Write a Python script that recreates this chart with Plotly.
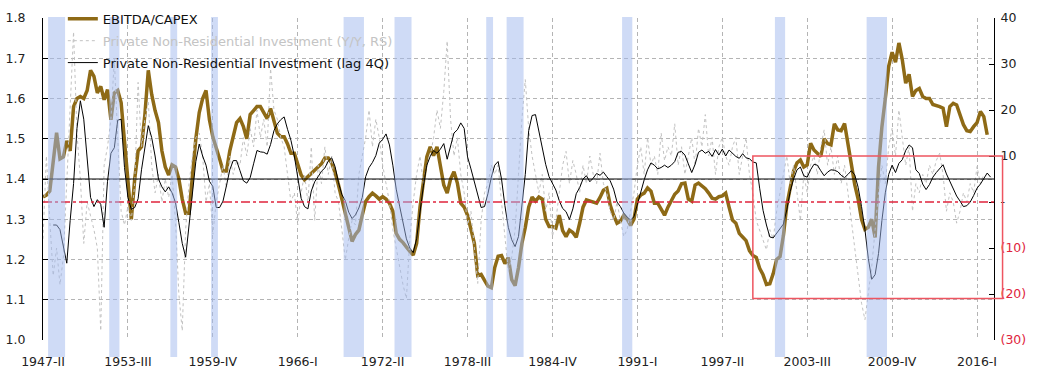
import plotly.graph_objects as go

# ---------------- data ----------------
ROMAN = ["I", "II", "III", "IV"]
quarters = []
_y, _q = 1947, 1
for _k in range(281):
    quarters.append(f"{_y}-{ROMAN[_q]}")
    _q += 1
    if _q == 4:
        _q, _y = 0, _y + 1

# EBITDA/CAPEX (left axis), from 1947-II
ebitda_capex = [
    1.355, 1.36, 1.37, 1.45, 1.515, 1.45, 1.455, 1.495, 1.47, 1.58,
    1.60, 1.605, 1.60, 1.62, 1.67, 1.655, 1.614, 1.63, 1.597, 1.622,
    1.547, 1.614, 1.62, 1.59, 1.50, 1.40, 1.30, 1.40, 1.47, 1.48,
    1.56, 1.67, 1.61, 1.57, 1.54, 1.47, 1.43, 1.41, 1.435, 1.43,
    1.40, 1.35, 1.315, 1.315, 1.41, 1.50, 1.565, 1.60, 1.62, 1.547,
    1.505, 1.48, 1.45, 1.42, 1.42, 1.47, 1.51, 1.54, 1.55, 1.53,
    1.50, 1.56, 1.57, 1.58, 1.58, 1.565, 1.55, 1.575, 1.547, 1.514,
    1.505, 1.505, 1.487, 1.464, 1.464, 1.44, 1.41, 1.398, 1.406, 1.412,
    1.42, 1.428, 1.438, 1.452, 1.452, 1.44, 1.416, 1.385, 1.35, 1.318,
    1.282, 1.245, 1.262, 1.273, 1.31, 1.344, 1.356, 1.365, 1.358, 1.35,
    1.356, 1.35, 1.34, 1.32, 1.265, 1.25, 1.242, 1.23, 1.22, 1.211,
    1.24, 1.33, 1.40, 1.455, 1.48, 1.458, 1.48, 1.43, 1.385, 1.365,
    1.40, 1.418, 1.39, 1.34, 1.33, 1.31, 1.275, 1.24, 1.16, 1.163,
    1.148, 1.134, 1.13, 1.18, 1.208, 1.21, 1.19, 1.205, 1.15, 1.135,
    1.18, 1.24, 1.28, 1.33, 1.355, 1.345, 1.355, 1.35, 1.30, 1.282,
    1.282, 1.278, 1.31, 1.272, 1.257, 1.273, 1.267, 1.255, 1.29, 1.33,
    1.348, 1.345, 1.344, 1.34, 1.354, 1.372, 1.377, 1.335, 1.31, 1.29,
    1.295, 1.31, 1.30, 1.285, 1.30, 1.35, 1.36, 1.365, 1.378, 1.37,
    1.34, 1.34, 1.325, 1.31, 1.33, 1.348, 1.362, 1.37, 1.388, 1.39,
    1.35, 1.345, 1.385, 1.39, 1.382, 1.376, 1.365, 1.352, 1.35, 1.356,
    1.358, 1.365, 1.33, 1.298, 1.29, 1.265, 1.256, 1.247, 1.222, 1.21,
    1.205, 1.178, 1.162, 1.138, 1.14, 1.165, 1.20, 1.207, 1.26, 1.335,
    1.378, 1.42, 1.44, 1.447, 1.43, 1.435, 1.489, 1.472, 1.464, 1.456,
    1.50, 1.488, 1.485, 1.537, 1.522, 1.52, 1.538, 1.49, 1.43, 1.386,
    1.35, 1.30, 1.275, 1.28, 1.30, 1.255, 1.43, 1.53, 1.60, 1.68,
    1.715, 1.69, 1.738, 1.696, 1.638, 1.66, 1.605, 1.62, 1.625, 1.605,
    1.60, 1.60, 1.585, 1.583, 1.58, 1.576, 1.53, 1.58, 1.588, 1.584,
    1.56, 1.535, 1.52, 1.518, 1.53, 1.54, 1.568, 1.555, 1.51,
]

# Private Non-Residential Investment Y/Y (right axis), from 1947-II
pnri_yoy = [
    -8, 10, -4, -16, -10, -18, -12, 4, 22, 37,
    15, 5, -9, 0, -3, -6, -10, -28, 8, 12,
    18, 31, 14, -2, -5, -1, -4, 4, 26, 12,
    18, 22, 8, 2, 6, 0, 5, 1, 6, -4,
    -20, -28, -6, 4, 10, 14, 15, 10, 0, 4,
    -7, 0, 4, 8, 3, 10, 6, 9, 8, 14,
    10, 16, 12, 20, 14, 18, 12, 29, 20, 18,
    14, 12, 6, 0, 2, -5, 2, 6, 0, 12,
    -4, 8, 4, 12, 6, 10, 2, 0, -6, -12.6,
    -8, -4, -5, 6, 10, 14, 20, 12, 18, 14,
    8, 4, 0, -6, -10, -14, -18, -21, -8, 0,
    6, 10, 4, 8, 10, 14, 20, 16, 24, 35,
    18, 10, 14, 6, 2, -5, -2, -10, -17.7, -4,
    2, 4, 8, 6, 8, 0, -8, -15, -12, -6,
    6, 18, 26.6, 16, 10, 6, 2, 6, -2, 2,
    -7.5, -4, 2, 8, 11, 4, 9, 6, 2, 8,
    4, 10, 6, 4, 10.6, 4, 2, -2, -4, 0,
    -4, -7.5, -6, -2, 2, 8, 12, 6, 14, 8,
    10, 6, 15, 9, 12, 10, 17, 8, 12, 6,
    10, 14, 8, 16, 12, 19, 10, 14, 6, 12,
    14, 10, 8, 12, 14, 6, 10, 14, 6, 2,
    -4, -6, -8, -10.4, -6, -8, -2, 2, 6, 10,
    4, 8, 2, -4, 6, 2, 8, 10, 6, 12,
    15.7, 8, 12, 6, 10, 4, 8, 2, -4, -10,
    -16, -22, -25.6, -20, -14, -6, 2, 8, 4, 12,
    16, 10, 20, 14, 8, 12, -2, 4, 2, 6,
    4, 8, 6, 9, 10.6, 6, -2, 2, 0, -4.6,
    -2, 2, 0, 4, 2, 7.7, 4, 6,
]

# Private Non-Residential Investment, lag 4Q (right axis), from 1948-I
LAG_START = "1948-I"
pnri_lag4q = [
    -5.0, -5.0, -6.0, -10.0, -13.3, -4.0, 4.0, 16.0,
    22.0, 18.0, 9.0, 1.0, -1.0, 0.5, -0.5, -5.5, 4.5, 10.6,
    11.8, 17.8, 18.0, 7.5, 1.0, -1.6, -1.2, 0.7, 7.0, 12.0,
    16.6, 14.0, 10.0, 5.0, 3.3, 2.2, 3.3, 2.0, -0.1, -4.5,
    -9.0, -12.0, -4.6, 1.5, 8.8, 12.6, 10.0, 8.0, 4.5, 3.4,
    -1.2, -1.2, 0.2, 3.5, 7.0, 9.0, 9.0, 6.8, 4.6, 4.1,
    5.3, 8.3, 11.2, 10.9, 10.8, 10.4, 12.5, 15.5, 17.0, 17.9,
    18.5, 15.8, 13.4, 10.0, 5.0, 0.8, -1.0, -1.5, 2.4, 4.4,
    5.5, 6.7, 7.4, 8.9, 9.6, 7.7, 4.2, 1.6, 0.3, -2.2,
    -3.6, -2.8, -1.3, 1.0, 5.5, 7.5, 8.6, 10.1, 12.8, 13.6,
    14.8, 12.4, 8.0, 2.8, -0.9, -4.6, -8.0, -10.0, -11.0, -8.0,
    -2.0, 3.5, 8.0, 9.9, 11.2, 10.6, 11.5, 12.7, 9.3, 12.0,
    15.0, 15.7, 17.2, 16.0, 9.8, 7.2, 4.5, 1.5, -1.2, -1.0,
    1.8, 5.4, 8.0, 8.8, 5.0, -0.8, -5.5, -8.2, -9.7, -7.5,
    -1.0, 6.0, 15.5, 18.8, 19.0, 15.3, 11.4, 8.2, 5.5, 4.0,
    2.6, 0.3, -1.4, -2.1, -3.8, -1.5, 1.8, 3.1, 5.0, 5.7,
    4.4, 5.2, 6.2, 5.8, 6.5, 5.5, 4.6, 2.8, 0.0, -1.0,
    -2.4, -3.3, -3.9, -3.2, -0.4, 2.0, 4.8, 7.0, 8.5, 8.0,
    7.2, 7.5, 8.0, 7.5, 8.0, 8.8, 10.8, 11.0, 10.2, 8.3,
    6.4, 8.2, 10.8, 11.3, 10.6, 11.0, 9.9, 11.4, 10.2, 11.5,
    10.0, 11.3, 10.6, 9.9, 9.5, 10.5, 9.6, 9.4, 8.7, 8.5,
    3.0, -1.8, -5.0, -7.6, -7.8, -6.8, -5.9, -4.8, -1.7, 2.3,
    5.0, 7.0, 7.6, 5.7, 5.4, 7.0, 8.2, 8.0, 6.8, 5.7,
    6.5, 7.0, 6.9, 6.6, 5.8, 5.3, 6.0, 6.8, 5.9, 3.2,
    -1.0, -6.0, -12.3, -16.8, -15.8, -11.2, -4.0, 2.0, 6.0, 8.0,
    6.4, 8.4, 9.2, 11.2, 12.4, 11.8, 7.0, 6.2, 3.9, 2.7,
    3.8, 5.4, 6.4, 7.2, 8.1, 6.1, 4.5, 3.0, 1.3, 0.2,
    -1.0, -0.8, 0.0, 1.4, 3.0, 3.9, 5.0, 6.3, 5.4,
]

# shaded (recession) periods, first and last quarter
recessions = [
    ("1947-IV", "1948-IV"), ("1952-II", "1952-IV"), ("1956-IV", "1957-I"),
    ("1959-IV", "1960-I"), ("1969-III", "1970-IV"), ("1973-II", "1974-II"),
    ("1980-I", "1980-II"), ("1981-III", "1982-III"), ("1990-I", "1990-III"),
    ("2001-II", "2001-IV"), ("2008-I", "2009-II"),
]

x_tick_labels = quarters[0:281:25]
left_ticks = [1.0, 1.1, 1.2, 1.3, 1.4, 1.5, 1.6, 1.7, 1.8]
right_ticks = [-30, -20, -10, 0, 10, 20, 30, 40]
right_tick_text = ["(30)", "(20)", "(10)", "-", "10", "20", "30", "40"]
EBITDA_REF = 1.40          # solid black reference line (left axis)
YOY_REF = 0                # red dash-dot reference line (right axis)
BOX_START = "1999-III"     # highlighted box start
BOX_RANGE = (-21, 10)      # highlighted box (right axis units)

# ---------------- figure ----------------
BROWN = "#8E6A16"
RED = "#E0243C"
GRID = "#B4B4B4"
GRID_DASH = "4px,3px"
N_CAT = 280

fig = go.Figure()
fig.add_trace(go.Scatter(
    x=quarters[:len(ebitda_capex)], y=ebitda_capex, name="EBITDA/CAPEX",
    legendgroup="a", mode="lines", line=dict(color=BROWN, width=3.5), yaxis="y"))
fig.add_trace(go.Scatter(
    x=quarters[:len(pnri_yoy)], y=pnri_yoy,
    name="<span style='color:#C4C4C4'>Private Non-Residential Investment (Y/Y, RS)</span>",
    legendgroup="b", mode="lines", line=dict(color="#C2C2C2", width=1, dash="dot"),
    yaxis="y2"))
_ls = quarters.index(LAG_START)
fig.add_trace(go.Scatter(
    x=quarters[_ls:_ls + len(pnri_lag4q)], y=pnri_lag4q,
    name="Private Non-Residential Investment (lag 4Q)",
    legendgroup="c", mode="lines", line=dict(color="#000000", width=1), yaxis="y2"))

shapes = []
shapes.append(dict(type="line", xref="paper", yref="y", x0=0, x1=1,
                   y0=EBITDA_REF, y1=EBITDA_REF, layer="above",
                   line=dict(color="#000000", width=1)))
shapes.append(dict(type="line", xref="paper", yref="y2", x0=0, x1=1,
                   y0=YOY_REF, y1=YOY_REF, layer="above",
                   line=dict(color=RED, width=1.5, dash="dashdot")))
for a, b in recessions:
    shapes.append(dict(type="rect", xref="x", yref="paper",
                       x0=quarters.index(a) - 0.5, x1=quarters.index(b) + 0.5,
                       y0=-0.053, y1=1.003, layer="above",
                       fillcolor="rgba(160,184,238,0.5)", line=dict(width=0)))
shapes.append(dict(type="rect", xref="paper", yref="y2",
                   x0=quarters.index(BOX_START) / N_CAT, x1=1.009,
                   y0=BOX_RANGE[0], y1=BOX_RANGE[1], layer="above",
                   line=dict(color="#EE5560", width=1.5),
                   fillcolor="rgba(0,0,0,0)"))

tick_text_right = [f"<span style='color:{RED}'>{t}</span>" if v < 0 else t
                   for v, t in zip(right_ticks, right_tick_text)]

FONT = dict(family="DejaVu Sans", size=12.5, color="#222222")

fig.update_layout(
    width=1042, height=384,
    margin=dict(l=43, r=48, t=18, b=44, autoexpand=False),
    paper_bgcolor="white", plot_bgcolor="white",
    font=FONT,
    showlegend=True,
    legend=dict(xref="container", yref="container", x=0.0603, y=0.99,
                xanchor="left", yanchor="top",
                bgcolor="rgba(0,0,0,0)",
                font=dict(family="DejaVu Sans", size=13, color="#111111"),
                tracegroupgap=2),
    shapes=shapes,
    xaxis=dict(type="category", categoryorder="array", categoryarray=quarters,
               range=[0, N_CAT], tickvals=x_tick_labels, ticktext=x_tick_labels,
               showgrid=True, gridcolor=GRID, griddash=GRID_DASH, gridwidth=1,
               showline=False, zeroline=False, ticks="", ticklabelstandoff=12,
               tickfont=FONT),
    yaxis=dict(range=[1.0, 1.8], tickvals=left_ticks, tickformat=".1f",
               showgrid=True, gridcolor=GRID, griddash=GRID_DASH, gridwidth=1,
               showline=True, linecolor="#000000", linewidth=1,
               ticks="inside", ticklen=5, tickcolor="#000000",
               zeroline=False, ticklabelstandoff=14, tickfont=FONT),
    yaxis2=dict(range=[-30, 40], overlaying="y", side="right",
                tickvals=right_ticks, ticktext=tick_text_right,
                showgrid=False, zeroline=False,
                showline=True, linecolor="#000000", linewidth=1,
                ticks="inside", ticklen=5, tickcolor="#000000",
                ticklabelstandoff=3, tickfont=FONT),
)

# remove the browser's default 8px page margin so the figure fills the window
fig.write_html("out.html", config={"displayModeBar": False},
               post_script="document.body.style.margin='0px';")
